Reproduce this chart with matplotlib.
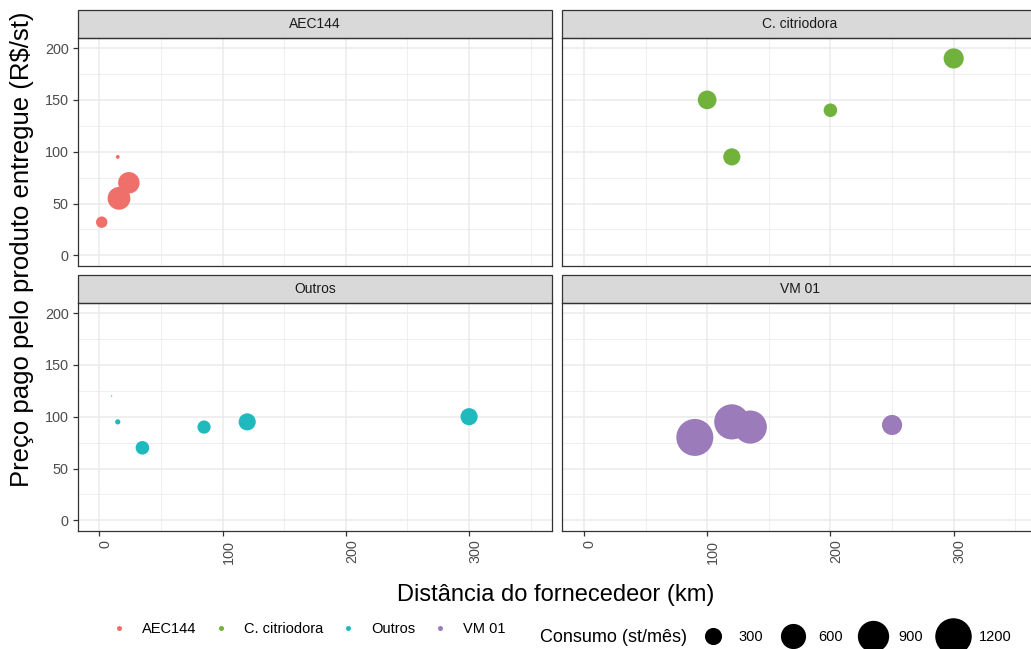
import numpy as np
import matplotlib
matplotlib.use("Agg")
import matplotlib.pyplot as plt
import matplotlib.transforms as mtransforms
from matplotlib.patches import Rectangle
from matplotlib.lines import Line2D

plt.rcParams['font.family'] = ['Liberation Sans', 'DejaVu Sans']

# data
clones = ["AEC144", "C. citriodora", "Outros", "VM 01"]
colors = ["#EF6F6B", "#70B23C", "#1FB9BE", "#9C7BBA"]

aec_dist = [2, 16, 24, 15]
aec_price = [32, 55, 70, 95]
aec_cons = [150, 500, 450, 30]

citri_dist = [100, 120, 200, 300]
citri_price = [150, 95, 140, 190]
citri_cons = [350, 300, 200, 400]

outros_dist = [10, 15, 35, 85, 120, 300]
outros_price = [120, 95, 70, 90, 95, 100]
outros_cons = [10, 45, 200, 190, 300, 300]

vm_dist = [90, 120, 135, 250]
vm_price = [80, 95, 90, 92]
vm_cons = [1230, 1120, 1000, 400]

size_breaks = [300, 600, 900, 1200]

panels = [
    (aec_dist, aec_price, aec_cons),
    (citri_dist, citri_price, citri_cons),
    (outros_dist, outros_price, outros_cons),
    (vm_dist, vm_price, vm_cons),
]

W, H = 1031, 649
fig = plt.figure(figsize=(W / 100, H / 100), dpi=100)


def diam_px(v):
    return 1.119 * np.sqrt(np.asarray(v, dtype=float)) - 2.25


def px_rect(left, top, w, h):
    return [left / W, 1 - (top + h) / H, w / W, h / H]


pw, ph = 474.6, 228
lefts = [77.7, 562.3]
tops = [37.7, 302.7]
strip_h = 27.7

grid_col = "#EBEBEB"
dark = "#333333"
shift = mtransforms.ScaledTranslation(6 / 100, 0, fig.dpi_scale_trans)

for i, (xd, yd, cd) in enumerate(panels):
    r, c = divmod(i, 2)
    ax = fig.add_axes(px_rect(lefts[c], tops[r], pw, ph))
    ax.set_xlim(-17.5, 367.5)
    ax.set_ylim(-10, 210)
    ax.set_xticks([0, 100, 200, 300])
    ax.set_xticks([50, 150, 250, 350], minor=True)
    ax.set_yticks([0, 50, 100, 150, 200])
    ax.set_yticks([25, 75, 125, 175], minor=True)
    ax.grid(which='major', color=grid_col, lw=1.1)
    ax.grid(which='minor', color=grid_col, lw=0.55)
    ax.set_axisbelow(True)
    for s in ax.spines.values():
        s.set_color(dark)
        s.set_linewidth(0.9)
    ax.tick_params(which='minor', length=0)
    ax.tick_params(which='major', color=dark, width=0.9, length=3.6, pad=2.9,
                   labelcolor="#4D4D4D", labelsize=10.4)
    if c == 1:
        ax.tick_params(axis='y', left=False, labelleft=False)
    if r == 0:
        ax.tick_params(axis='x', bottom=False, labelbottom=False)
    else:
        for lab in ax.get_xticklabels():
            lab.set_rotation(90)
            lab.set_va('top')
            lab.set_ha('center')
            lab.set_transform(lab.get_transform() + shift)

    ax.scatter(xd, yd, s=(diam_px(cd) * 0.72) ** 2, color=colors[i],
               edgecolors='none', zorder=3)

    sh = strip_h / ph
    ax.add_patch(Rectangle((0, 1), 1, sh, transform=ax.transAxes,
                           fc="#D9D9D9", ec=dark, lw=0.9, clip_on=False))
    ax.text(0.5, 1 + sh / 2, clones[i], transform=ax.transAxes,
            ha='center', va='center', fontsize=10, color="#1A1A1A")

fig.text(556 / W, 1 - 595 / H, "Distância do fornecedeor (km)",
         ha='center', va='center', fontsize=17)
fig.text(22 / W, 1 - 249 / H, "Preço pago pelo produto entregue (R$/st)",
         ha='center', va='center', rotation=90, fontsize=18.5)

# colour legend
col_handles = [Line2D([], [], ls='none', marker='o', markersize=3.6,
                      markerfacecolor=col, markeredgecolor='none')
               for col in colors]
fig.legend(col_handles, clones, loc='center left',
           bbox_to_anchor=(111.7 / W, 1 - 629 / H), ncol=4, frameon=False,
           fontsize=10.5, handlelength=1.0, handletextpad=1.08,
           columnspacing=1.2, borderpad=0, borderaxespad=0)

# size legend
fig.text(540 / W, 1 - 637 / H, "Consumo (st/mês)", ha='left', va='center',
         fontsize=13)
size_handles = [Line2D([], [], ls='none', marker='o',
                       markersize=float(diam_px(b)) * 0.72,
                       markerfacecolor='black', markeredgecolor='none')
                for b in size_breaks]
fig.legend(size_handles, [str(b) for b in size_breaks], loc='center left',
           bbox_to_anchor=(694 / W, 1 - 637 / H), ncol=4, frameon=False,
           fontsize=10.5, handlelength=2.6, handletextpad=0.45,
           columnspacing=0.75, borderpad=0, borderaxespad=0)

fig.savefig("out.png", dpi=100)
